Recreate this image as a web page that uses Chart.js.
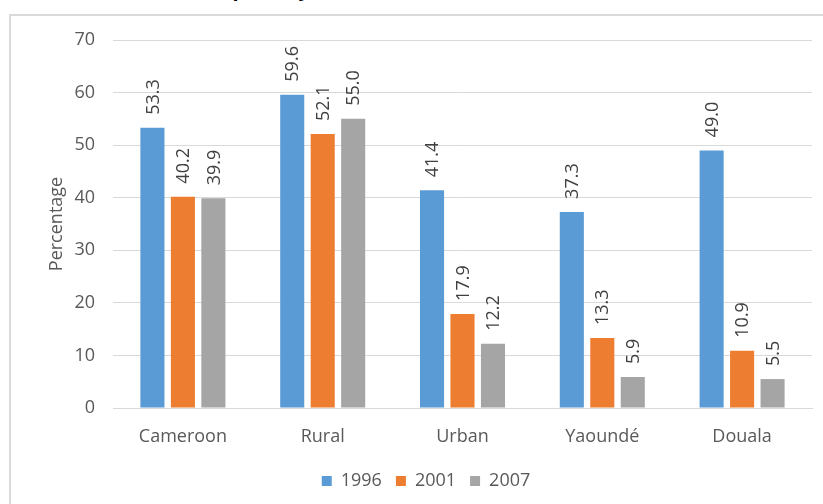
<!DOCTYPE html>
<html>
<head>
<meta charset="utf-8">
<script src="https://cdn.jsdelivr.net/npm/chart.js@4.4.1/dist/chart.umd.min.js"></script>
<style>
  html, body { margin: 0; padding: 0; background: #fff; overflow: hidden; }
  #frame { position: absolute; left: 9px; top: 14px; width: 900px; height: 600px; border: 2px solid #d9d9d9; }
  #cap { position: absolute; left: 106px; top: -21px; font: bold 20px "Open Sans"; line-height: 20px; color: #000; white-space: nowrap; }
  #wrap { position: absolute; left: 0; top: 0; width: 823px; height: 504px; }
</style>
</head>
<body>
<div id="cap">Incidence of poverty</div>
<div id="frame"></div>
<div id="wrap"><canvas id="chart"></canvas></div>
<script>
const regions = ["Cameroon", "Rural", "Urban", "Yaoundé", "Douala"];
const years = ["1996", "2001", "2007"];
const rate1996 = [53.3, 59.6, 41.4, 37.3, 49.0];
const rate2001 = [40.2, 52.1, 17.9, 13.3, 10.9];
const rate2007 = [39.9, 55.0, 12.2, 5.9, 5.5];
const yTicks = [0, 10, 20, 30, 40, 50, 60, 70];

const colors = ["#5b9bd5", "#ed7d31", "#a5a5a5"];
const textGrey = "#595959";

// value printed vertically above every bar
const barLabels = {
  id: "barLabels",
  afterDatasetsDraw(chart) {
    const ctx = chart.ctx;
    ctx.save();
    ctx.font = '18px "Open Sans"';
    ctx.fillStyle = "#404040";
    ctx.textAlign = "left";
    ctx.textBaseline = "middle";
    chart.data.datasets.forEach((ds, i) => {
      chart.getDatasetMeta(i).data.forEach((bar, j) => {
        ctx.save();
        ctx.translate(bar.x + 1, bar.y - 13);
        ctx.rotate(-Math.PI / 2);
        ctx.fillText(ds.data[j].toFixed(1), 0, 0);
        ctx.restore();
      });
    });
    ctx.restore();
  }
};

const series = [rate1996, rate2001, rate2007];

new Chart(document.getElementById("chart"), {
  type: "bar",
  data: {
    labels: regions,
    datasets: years.map((y, i) => ({
      label: y,
      data: series[i],
      backgroundColor: colors[i],
      borderWidth: 0,
      categoryPercentage: 0.654,
      barPercentage: 0.79
    }))
  },
  plugins: [barLabels],
  options: {
    responsive: true,
    maintainAspectRatio: false,
    animation: false,
    layout: { padding: { left: 40, right: 11, top: 40, bottom: 4 } },
    plugins: {
      tooltip: { enabled: false },
      legend: {
        position: "bottom",
        labels: {
          boxWidth: 10,
          boxHeight: 10,
          padding: 14,
          color: textGrey,
          font: { family: "Open Sans", size: 18 }
        }
      }
    },
    scales: {
      x: {
        grid: { display: false },
        border: { color: "#d9d9d9" },
        ticks: {
          color: textGrey,
          padding: 10,
          font: { family: "Open Sans", size: 18 }
        },
        afterFit(scale) { scale.height = 50; }
      },
      y: {
        min: 0,
        max: 70,
        afterBuildTicks(scale) { scale.ticks = yTicks.map(v => ({ value: v })); },
        grid: { color: "#d9d9d9", drawTicks: false },
        border: { display: false },
        ticks: {
          color: textGrey,
          padding: 18,
          font: { family: "Open Sans", size: 18 }
        },
        title: {
          display: true,
          text: "Percentage",
          color: textGrey,
          padding: { top: 6, bottom: 0 },
          font: { family: "Open Sans", size: 18 }
        },
        afterFit(scale) { scale.width = 73; }
      }
    }
  }
});
</script>
</body>
</html>
